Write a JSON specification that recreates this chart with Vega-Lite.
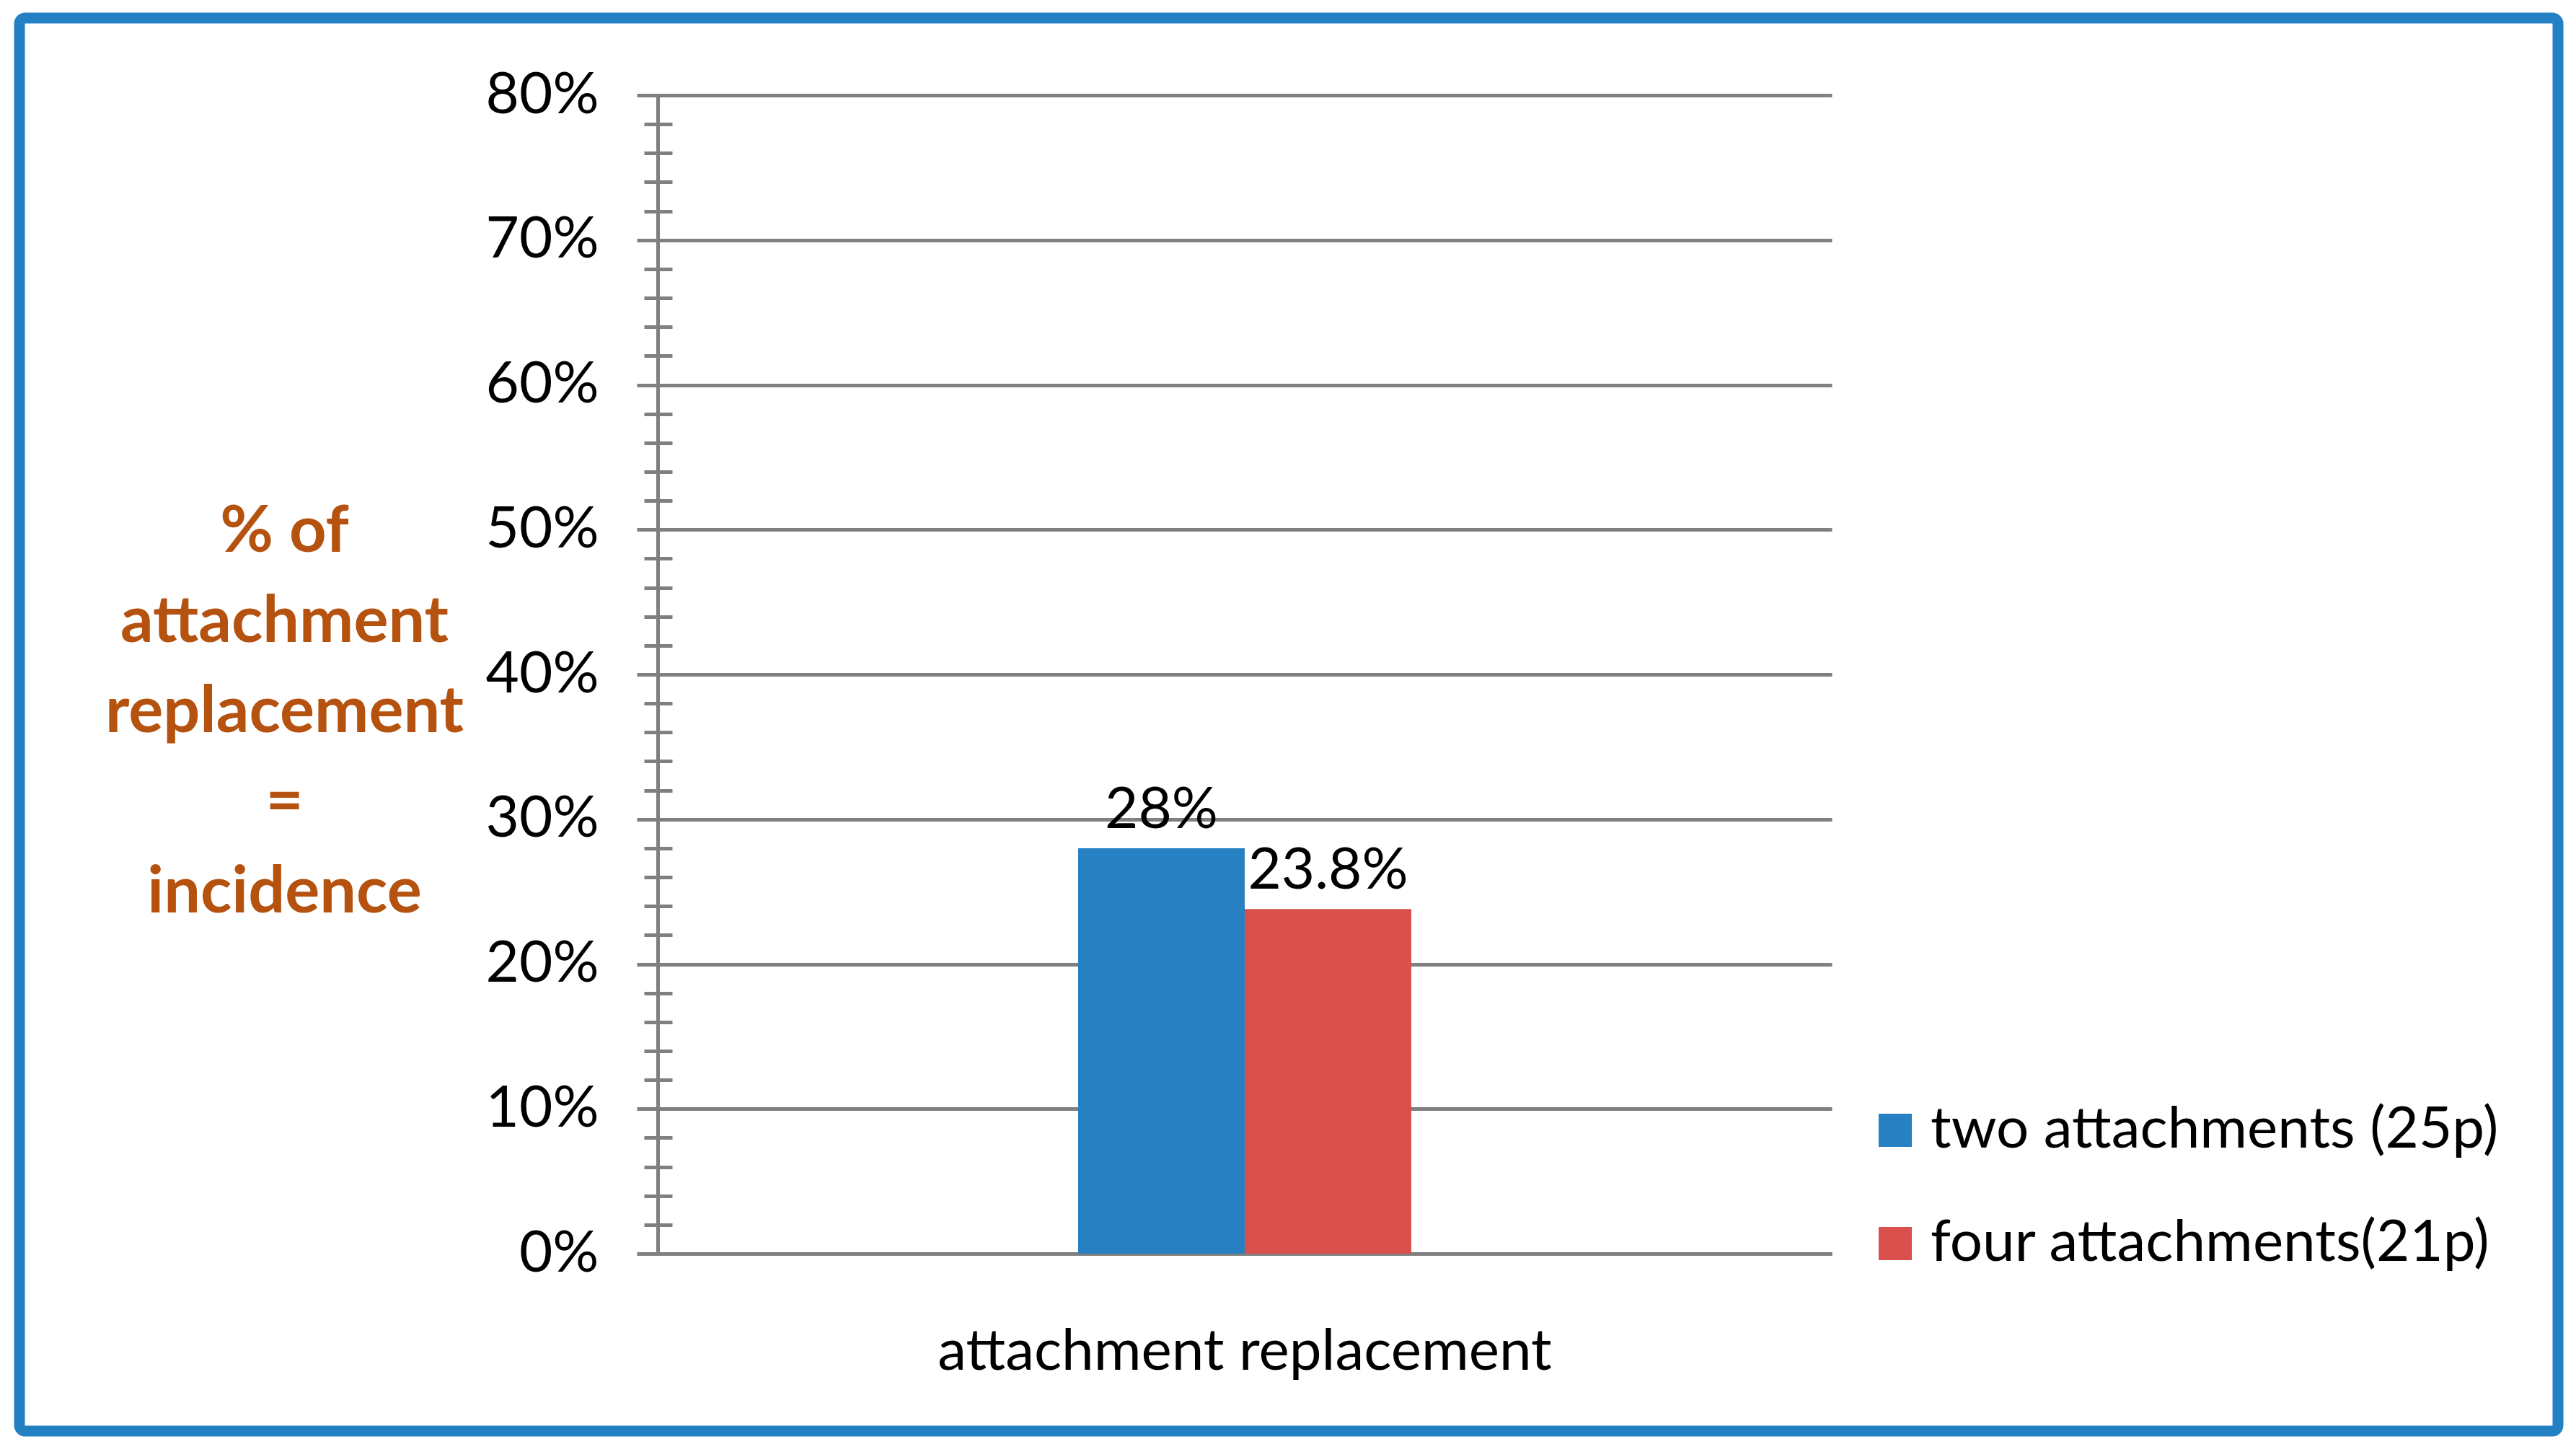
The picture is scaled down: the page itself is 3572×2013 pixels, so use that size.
{
  "$schema": "https://vega.github.io/schema/vega-lite/v6.json",
  "width": 3520,
  "height": 1959,
  "autosize": "none",
  "padding": {"left": 27, "top": 25, "right": 25, "bottom": 29},
  "background": "white",
  "config": {
    "font": "Lato",
    "view": {"stroke": "#2280C3", "strokeWidth": 15, "cornerRadius": 8, "fill": "white"}
  },
  "data": {
    "values": [
      {"category": "attachment replacement", "group": "two attachments (25p)", "value": 0.28},
      {"category": "attachment replacement", "group": "four attachments(21p)", "value": 0.238}
    ]
  },
  "resolve": {"scale": {"y": "shared"}, "axis": {"y": "independent"}},
  "encoding": {
    "x": {
      "field": "category",
      "type": "nominal",
      "scale": {"range": [885, 2513], "paddingInner": 0.2075, "paddingOuter": 1, "align": 0.5},
      "axis": {
        "orient": "bottom",
        "offset": -246,
        "title": null,
        "ticks": false,
        "labelFont": "Lato",
        "labelFontSize": 80,
        "labelColor": "#000000",
        "labelPadding": 97,
        "labelAngle": 0,
        "labelLimit": 2000,
        "domainColor": "#808080",
        "domainWidth": 5,
        "grid": false
      }
    },
    "xOffset": {
      "field": "group",
      "type": "nominal",
      "sort": ["two attachments (25p)", "four attachments(21p)"],
      "scale": {"paddingInner": 0, "paddingOuter": 0}
    }
  },
  "layer": [
    {
      "mark": {"type": "bar"},
      "encoding": {
        "y": {
          "field": "value",
          "type": "quantitative",
          "scale": {"domain": [0, 0.8], "range": [1713, 107], "nice": false, "zero": true},
          "axis": {
            "orient": "left",
            "offset": -885,
            "values": [0, 0.1, 0.2, 0.3, 0.4, 0.5, 0.6, 0.7, 0.8],
            "format": ".0%",
            "labelFont": "Lato",
            "labelFontSize": 80,
            "labelColor": "#000000",
            "labelPadding": 53,
            "labelFlush": false,
            "labelOverlap": false,
            "labelBaseline": "middle",
            "tickSize": 29,
            "tickWidth": 5,
            "tickColor": "#808080",
            "domainColor": "#808080",
            "domainWidth": 5,
            "grid": true,
            "gridColor": "#808080",
            "gridWidth": 5,
            "gridOpacity": 1,
            "title": ["% of", "attachment", "replacement", "=", "incidence"],
            "titleAngle": 0,
            "titleX": -518,
            "titleY": 712,
            "titleAlign": "center",
            "titleBaseline": "middle",
            "titleFont": "Lato",
            "titleFontSize": 90,
            "titleFontWeight": "bold",
            "titleColor": "#B5520F",
            "titleLineHeight": 125
          }
        },
        "color": {
          "field": "group",
          "type": "nominal",
          "scale": {
            "domain": ["two attachments (25p)", "four attachments(21p)"],
            "range": ["#2680C2", "#DA504D"]
          },
          "legend": {
            "orient": "none",
            "legendX": 2561,
            "legendY": 1502,
            "title": null,
            "symbolType": "square",
            "symbolSize": 2116,
            "symbolStrokeWidth": 0,
            "labelFont": "Lato",
            "labelFontSize": 80,
            "labelColor": "#000000",
            "labelOffset": 9,
            "labelLimit": 2000,
            "rowPadding": 77,
            "padding": 0
          }
        }
      }
    },
    {
      "mark": {"type": "text", "dy": -28, "fontSize": 80, "color": "#000000", "baseline": "alphabetic", "font": "Lato"},
      "encoding": {
        "y": {
          "field": "value",
          "type": "quantitative",
          "axis": {
            "orient": "left",
            "offset": -905,
            "values": [0, 0.02, 0.04, 0.06, 0.08, 0.1, 0.12, 0.14, 0.16, 0.18, 0.2, 0.22, 0.24, 0.26, 0.28, 0.3, 0.32, 0.34, 0.36, 0.38, 0.4, 0.42, 0.44, 0.46, 0.48, 0.5, 0.52, 0.54, 0.56, 0.58, 0.6, 0.62, 0.64, 0.66, 0.68, 0.7, 0.72, 0.74, 0.76, 0.78, 0.8],
            "tickSize": 39,
            "tickWidth": 5,
            "tickColor": "#808080",
            "domain": false,
            "labels": false,
            "grid": false,
            "title": null
          }
        },
        "text": {"field": "value", "type": "quantitative", "format": ".1~%"}
      }
    }
  ]
}
